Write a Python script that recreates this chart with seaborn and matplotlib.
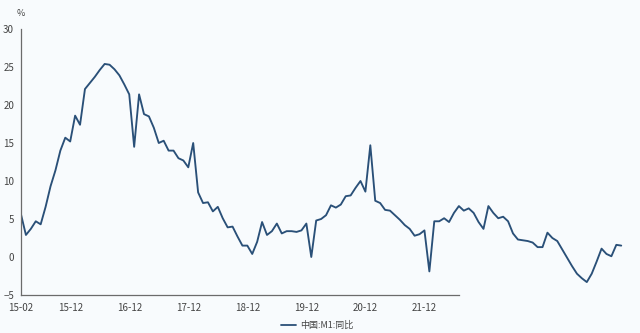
import matplotlib
matplotlib.use("Agg")
import matplotlib.pyplot as plt
import seaborn as sns
import pandas as pd
import numpy as np
from matplotlib.lines import Line2D

# China M1 YoY (%), monthly from 2015-02 to 2025-04
y2015 = [5.6, 2.9, 3.7, 4.7, 4.3, 6.6, 9.3, 11.4, 14.0, 15.7, 15.2]          # Feb-Dec
y2016 = [18.6, 17.4, 22.1, 22.9, 23.7, 24.6, 25.4, 25.3, 24.7, 23.9, 22.7, 21.4]
y2017 = [14.5, 21.4, 18.8, 18.5, 17.0, 15.0, 15.3, 14.0, 14.0, 13.0, 12.7, 11.8]
y2018 = [15.0, 8.5, 7.1, 7.2, 6.0, 6.6, 5.1, 3.9, 4.0, 2.7, 1.5, 1.5]
y2019 = [0.4, 2.0, 4.6, 2.9, 3.4, 4.4, 3.1, 3.4, 3.4, 3.3, 3.5, 4.4]
y2020 = [0.0, 4.8, 5.0, 5.5, 6.8, 6.5, 6.9, 8.0, 8.1, 9.1, 10.0, 8.6]
y2021 = [14.7, 7.4, 7.1, 6.2, 6.1, 5.5, 4.9, 4.2, 3.7, 2.8, 3.0, 3.5]
y2022 = [-1.9, 4.7, 4.7, 5.1, 4.6, 5.8, 6.7, 6.1, 6.4, 5.8, 4.6, 3.7]
y2023 = [6.7, 5.8, 5.1, 5.3, 4.7, 3.1, 2.3, 2.2, 2.1, 1.9, 1.3, 1.3]
y2024 = [3.2, 2.5, 2.1, 1.0, -0.1, -1.2, -2.2, -2.8, -3.3, -2.2, -0.6, 1.1]
y2025 = [0.4, 0.1, 1.6, 1.5]                                                  # Jan-Apr

values = y2015 + y2016 + y2017 + y2018 + y2019 + y2020 + y2021 + y2022 + y2023 + y2024 + y2025
months = pd.period_range("2015-02", periods=len(values), freq="M")

tick_labels = ["15-02", "15-12", "16-12", "17-12", "18-12", "19-12", "20-12", "21-12"]
series_name = "中国:M1:同比"

df = pd.DataFrame({"idx": np.arange(len(values)), "value": values, "series": series_name})
tick_pos = [months.get_loc(pd.Period("20" + t[:2] + "-" + t[3:], freq="M")) for t in tick_labels]

sns.set_style("white")
plt.rcParams["font.family"] = ["Noto Sans CJK SC", "DejaVu Sans"]

bg = "#f8fbfd"
line_color = "#2a5078"
fig = plt.figure(figsize=(6.4, 3.33), dpi=100, facecolor=bg)
ax = fig.add_axes([21 / 640, 38 / 333, 614 / 640, 266 / 333], facecolor=bg)

sns.lineplot(data=df, x="idx", y="value", hue="series", palette=[line_color],
             linewidth=1.35, ax=ax, legend=False)

ax.set_xlim(0, 614 / 4.92)
ax.set_ylim(-5, 30)
ax.set_yticks([-5, 0, 5, 10, 15, 20, 25, 30])
ax.set_xticks(tick_pos)
ax.set_xticklabels(tick_labels)
ax.set_xlabel("")
ax.set_ylabel("")

for s in ["top", "right"]:
    ax.spines[s].set_visible(False)
for s in ["left", "bottom"]:
    ax.spines[s].set_color("#6b6b6b")
    ax.spines[s].set_linewidth(0.9)
ax.spines["bottom"].set_bounds(0, 89)

ax.tick_params(axis="both", direction="out", length=4, width=0.8, color="#6b6b6b",
               labelsize=7, labelcolor="#444444", pad=2)
ax.tick_params(axis="y", pad=1)

fig.text(21 / 640, 1 - 14 / 333, "%", fontsize=6.5, color="#444444", ha="center", va="center")

handle = Line2D([0], [0], color=line_color, linewidth=1.3)
fig.legend([handle], [series_name], loc="center", bbox_to_anchor=(0.496, 0.022),
           frameon=False, fontsize=6.5, handlelength=1.6, handletextpad=0.5,
           labelcolor="#444444")

fig.savefig("out.png", dpi=100, facecolor=bg)
